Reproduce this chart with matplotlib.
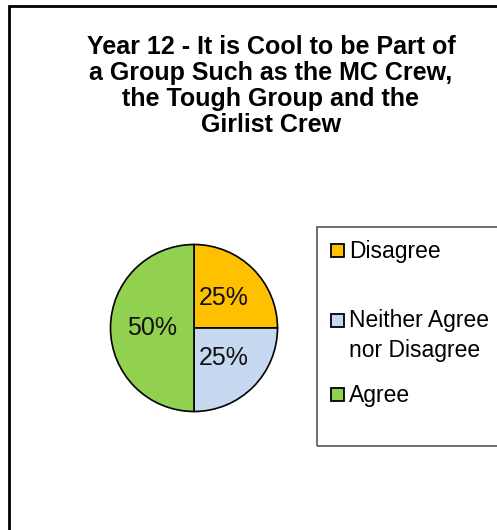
import matplotlib.pyplot as plt
from matplotlib.patches import Rectangle

# data
categories = ['Disagree', 'Neither Agree\nnor Disagree', 'Agree']
values = [25, 25, 50]
colors = ['#FFC000', '#C6D9F1', '#92D050']
title = 'Year 12 - It is Cool to be Part of\na Group Such as the MC Crew,\nthe Tough Group and the\nGirlist Crew'

W, H = 497, 530
plt.rcParams['font.family'] = ['Liberation Sans', 'DejaVu Sans']


def px(x, y):
    # pixel position (from top-left) -> figure fraction
    return x / W, 1 - y / H


fig = plt.figure(figsize=(W / 100, H / 100), dpi=100)

# outer chart frame (runs off the right and bottom edge)
x0, y0 = px(9, 6)
fig.patches.append(Rectangle((x0, -0.2), 1.3, y0 + 0.2, transform=fig.transFigure,
                             fill=False, edgecolor='black', linewidth=2))

# title
tx, ty = px(271, 35)
fig.text(tx, ty, title, ha='center', va='top', fontsize=18, fontweight='bold',
         linespacing=1.11)

# pie
cx, cy, r = 194, 328, 83.5
ax = fig.add_axes([(cx - r) / W, (H - cy - r) / H, 2 * r / W, 2 * r / H])
wedges, texts, autotexts = ax.pie(values, colors=colors, startangle=90, counterclock=False,
                                  autopct='%1.0f%%', pctdistance=0.5,
                                  wedgeprops=dict(edgecolor='black', linewidth=1.2),
                                  textprops=dict(fontsize=18, color='#111111'))
ax.set_xlim(-1, 1)
ax.set_ylim(-1, 1)
ax.axis('off')

# legend box
lx, ly = px(317, 446)
fig.patches.append(Rectangle((lx, ly), 0.6, (446 - 227) / H, transform=fig.transFigure,
                             fill=False, edgecolor='#555555', linewidth=1.2))

# legend rows: (marker centre y, baseline y of last text line) in pixels
row_y = [(250, 258), (320, 357), (394, 402)]
msize = 13
for lab, col, (my, by) in zip(categories, colors, row_y):
    mx, myf = px(337 - msize / 2, my + msize / 2)
    fig.patches.append(Rectangle((mx, myf), msize / W, msize / H, transform=fig.transFigure,
                                 facecolor=col, edgecolor='black', linewidth=1.3))
    bx, byf = px(349, by)
    fig.text(bx, byf, lab, ha='left', va='baseline', fontsize=16.5, linespacing=1.4)

fig.savefig('out.png', dpi=100)
